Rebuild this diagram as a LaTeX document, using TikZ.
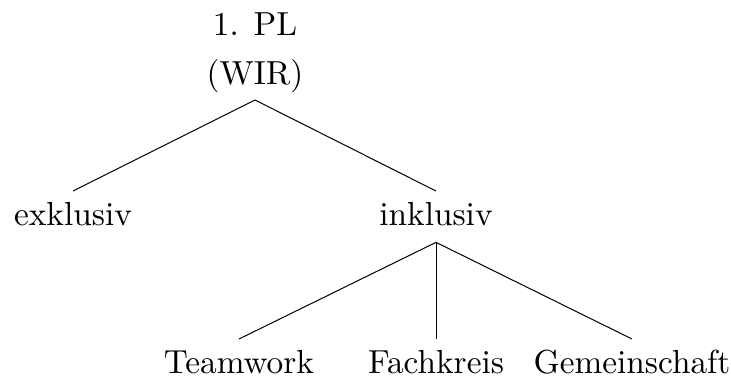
\documentclass[tikz,border=0pt]{standalone}
\usepackage{tikz}

\tikzset{
    word/.style={inner sep=3pt, text height=7pt, text depth=2pt, font=\fontsize{10}{12}\selectfont},
    rootword/.style={inner sep=2pt, align=center, font=\fontsize{10}{14.7}\selectfont},
    branch/.style={draw, line width=0.3pt}
}

\begin{document}
\begin{tikzpicture}[x=0.3pt, y=-0.3pt]
\useasboundingbox (0,0) rectangle (731,378);

% ===== Root =====
\node[rootword, anchor=south] (wir) at (255,100) {1. PL\\(WIR)};

% ===== Level 1 =====
\node[word, anchor=base] (exkl) at (73,225) {exklusiv};
\node[word, anchor=base] (inkl) at (436,225) {inklusiv};
\draw[branch] (wir.south) -- (exkl.north);
\draw[branch] (wir.south) -- (inkl.north);

% ===== Level 2 =====
\node[word, anchor=base] (team) at (239,373) {Teamwork};
\node[word, anchor=base] (fach) at (436,373) {Fachkreis};
\node[word, anchor=base] (gem)  at (632,373) {Gemeinschaft};
\draw[branch] (inkl.south) -- (team.north);
\draw[branch] (inkl.south) -- (fach.north);
\draw[branch] (inkl.south) -- (gem.north);

\end{tikzpicture}
\end{document}
